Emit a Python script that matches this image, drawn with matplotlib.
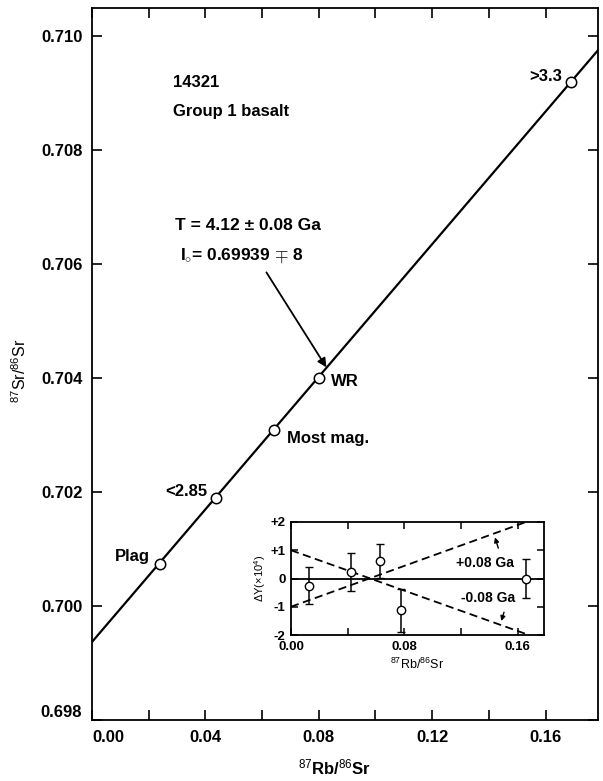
import matplotlib
matplotlib.use("Agg")
import matplotlib.pyplot as plt
import numpy as np

plt.rcParams['font.family'] = ['Liberation Sans', 'DejaVu Sans']
plt.rcParams['mathtext.fontset'] = 'custom'
plt.rcParams['mathtext.rm'] = 'Liberation Sans'
plt.rcParams['mathtext.bf'] = 'Liberation Sans:bold'
plt.rcParams['mathtext.it'] = 'Liberation Sans:italic'

# ---- main isochron data ----
point_names = ['Plag', '<2.85', 'Most mag.', 'WR', '>3.3']
rb_sr = [0.0240, 0.0437, 0.0642, 0.0801, 0.1689]
sr_sr = [0.70074, 0.70189, 0.70309, 0.70400, 0.70920]
iso_intercept = 0.69937
iso_slope = 0.0582

x_ticks = [0.00, 0.04, 0.08, 0.12, 0.16]
x_tick_labels = ['0.00', '0.04', '0.08', '0.12', '0.16']
y_ticks = [0.698, 0.700, 0.702, 0.704, 0.706, 0.708, 0.710]
y_tick_labels = ['0.698', '0.700', '0.702', '0.704', '0.706', '0.708', '0.710']

# ---- inset residual data ----
res_x = [0.0126, 0.0426, 0.0627, 0.0780, 0.1659]
res_y = [-0.26, 0.24, 0.63, -1.13, 0.0]
res_err = [0.65, 0.67, 0.60, 0.75, 0.70]
plus_line_x = [0.0, 0.166]
plus_line_y = [-1.0, 2.0]
minus_line_x = [0.0, 0.168]
minus_line_y = [1.0, -2.0]
inset_x_ticks = [0.00, 0.04, 0.08, 0.12, 0.16]
inset_x_labels = ['0.00', '', '0.08', '', '0.16']
inset_y_ticks = [-2, -1, 0, 1, 2]
inset_y_labels = ['-2', '-1', '0', '+1', '+2']

fig = plt.figure(figsize=(6.03, 7.81), dpi=100)
ax = fig.add_axes([92/603, 1-720/781, 506/603, 712/781])

xmin, xmax = 0.0, 0.1785
ax.set_xlim(xmin, xmax)
ax.set_ylim(0.698, 0.7105)

xs = np.array([xmin, xmax])
ax.plot(xs, iso_intercept + iso_slope*xs, color='black', lw=1.6, zorder=2)
ax.plot(rb_sr, sr_sr, 'o', ms=7.5, mfc='white', mec='black', mew=1.1, zorder=3)

ax.set_xticks(x_ticks)
ax.set_xticklabels(x_tick_labels)
ax.set_xticks([0.02, 0.06, 0.10, 0.14], minor=True)
ax.set_yticks(y_ticks)
ax.set_yticklabels(y_tick_labels)
ax.tick_params(which='both', direction='in', length=7, width=1.2,
               top=True, right=True, labelsize=12, pad=7)
for lab in ax.get_xticklabels() + ax.get_yticklabels():
    lab.set_fontweight('bold')
ax.get_xticklabels()[0].set_horizontalalignment('left')
ax.get_yticklabels()[0].set_verticalalignment('bottom')
for s in ax.spines.values():
    s.set_linewidth(1.3)

ax.set_xlabel(r'$^{87}\mathbf{Rb/}^{86}\mathbf{Sr}$', fontsize=12)
ax.xaxis.set_label_coords(0.48, -0.052)
ax.set_ylabel(r'$^{87}$Sr/$^{86}$Sr', fontsize=11.5)
ax.yaxis.set_label_coords(-0.125, 0.49)

fw = 'bold'
ax.text(0.0286, 0.70920, '14321', fontsize=12, fontweight=fw, va='center')
ax.text(0.0286, 0.70868, 'Group 1 basalt', fontsize=12, fontweight=fw, va='center')
ax.text(0.0293, 0.70669, 'T = 4.12 \u00b1 0.08 Ga', fontsize=12.5, fontweight=fw, va='center')
ax.text(0.0310, 0.70615, r'I$_{\circ}$= 0.69939 $\mp$ 8', fontsize=12.5, fontweight=fw, va='center')
ax.annotate('', xy=(0.0832, 0.70415), xytext=(0.0610, 0.70590),
            arrowprops=dict(arrowstyle='-|>', lw=1.3, color='black', mutation_scale=13))

label_pos = {'Plag': (0.0205, 0.70087, 'right'),
             '<2.85': (0.0406, 0.70201, 'right'),
             'Most mag.': (0.0688, 0.70294, 'left'),
             'WR': (0.0843, 0.70395, 'left'),
             '>3.3': (0.1658, 0.70929, 'right')}
for name in point_names:
    x, y, ha = label_pos[name]
    ax.text(x, y, name, fontsize=12, fontweight=fw, ha=ha, va='center')

# ---- inset ----
ai = fig.add_axes([291/603, 1-635/781, 253/603, 113/781])
ai.set_xlim(0, 0.1787)
ai.set_ylim(-2, 2)
ai.axhline(0, color='black', lw=1.3, zorder=1)
ai.plot(plus_line_x, plus_line_y, color='black', lw=1.3, ls=(0, (4.5, 2.5)))
ai.plot(minus_line_x, minus_line_y, color='black', lw=1.3, ls=(0, (4.5, 2.5)))
ai.errorbar(res_x, res_y, yerr=res_err, fmt='o', ms=6, mfc='white', mec='black',
            mew=1.0, ecolor='black', elinewidth=1.1, capsize=3, capthick=1.1, zorder=3)
ai.set_xticks(inset_x_ticks)
ai.set_xticklabels(inset_x_labels)
ai.set_yticks(inset_y_ticks)
ai.set_yticklabels(inset_y_labels)
ai.tick_params(direction='in', length=5, width=1.1, top=True, right=True,
               labelsize=9.5, pad=4)
for lab in ai.get_xticklabels() + ai.get_yticklabels():
    lab.set_fontweight('bold')
for s in ai.spines.values():
    s.set_linewidth(1.3)
ai.set_xlabel(r'$^{87}$Rb/$^{86}$Sr', fontsize=9, labelpad=3)
ai.set_ylabel(r'$\Delta$Y($\times$10$^4$)', fontsize=8, labelpad=2)
ai.text(0.137, 0.55, '+0.08 Ga', fontsize=10, fontweight=fw, ha='center', va='center')
ai.text(0.139, -0.70, '-0.08 Ga', fontsize=10, fontweight=fw, ha='center', va='center')
ai.annotate('', xy=(0.1435, 1.55), xytext=(0.147, 0.98),
            arrowprops=dict(arrowstyle='-|>', lw=1.0, color='black', mutation_scale=7))
ai.annotate('', xy=(0.148, -1.60), xytext=(0.151, -1.10),
            arrowprops=dict(arrowstyle='-|>', lw=1.0, color='black', mutation_scale=7))

fig.savefig('out.png', dpi=100)
